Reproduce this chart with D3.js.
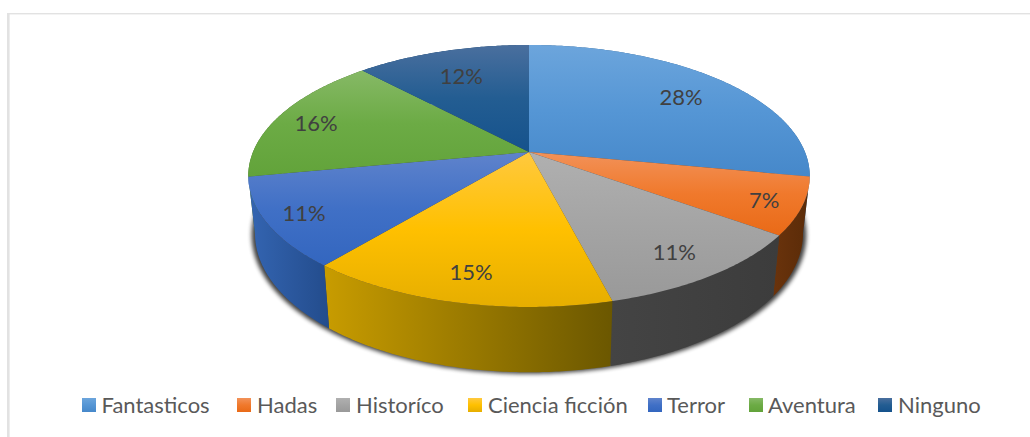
<!DOCTYPE html>
<html>
<head>
<meta charset="utf-8">
<script src="https://cdn.jsdelivr.net/npm/d3@7"></script>
<style>
  html, body { margin: 0; padding: 0; background: #fff; overflow: hidden; }
  text { font-family: Lato, "Open Sans", sans-serif; }
</style>
</head>
<body>
<div id="chart"></div>
<script>
// data
const categories = ['Fantasticos', 'Hadas', 'Historíco', 'Ciencia ficción', 'Terror', 'Aventura', 'Ninguno'];
const percents = [28, 7, 11, 15, 11, 16, 12];

// slice colours: top, middle and bottom of the gradient
const topLight = ['#6ca5dc', '#f29259', '#b0b0b0', '#ffc93f', '#5f83cc', '#86b966', '#4a6f9e'];
const topMid = ['#5596d5', '#f0792c', '#a4a4a4', '#ffc000', '#4070c6', '#6cab45', '#235d92'];
const topDark = ['#4688ca', '#e96a17', '#999999', '#e6ae00', '#3366bf', '#62a33a', '#15528c'];
// side wall colours: left, right
const wallLeft = ['#2d6192', '#6a330c', '#444444', '#c89c00', '#3465b2', '#3d6624', '#0f3a63'];
const wallRight = ['#2d6192', '#5a2b08', '#3c3c3c', '#6b5700', '#234c8c', '#3d6624', '#0f3a63'];

// layout
const width = 1030, height = 437;
const cx = 529, cy = 152;        // where the pie centre lands on screen
const ax = 276, ay = 126.6;      // radius of the disc before perspective
const persp = 0.183;             // how much nearer points get stretched
const labelRadius = [0.78, 0.87, 0.82, 0.82, 0.87, 0.85, 0.75];
const labelNudge = [3, 2, 2, 2, 0, 3, 3];
const legendSwatch = [82, 237, 336, 468, 648, 749, 878];
const legendText = [101.5, 257, 356, 488, 667, 768, 898];
const wallOrder = [6, 5, 0, 1, 2, 3, 4];   // back walls first, so the front ones hide them

// tilted disc: angle is clockwise from 12 o'clock, r is 0..1
function project(angle, r) {
    let X = r * Math.sin(angle);
    let Y = -r * Math.cos(angle);
    let d = 1 - persp * Y;
    return [cx + ax * X / d, cy + ay * Y / d];
}

// same point on the lower rim of the pie
function lower(p) {
    return [cx + (p[0] - cx) * 0.976, p[1] * 1.06 + 46.9];
}

let svg = d3.select('#chart').append('svg')
    .attr('width', width)
    .attr('height', height);

let defs = svg.append('defs');

categories.forEach(function (d, i) {
    let top = defs.append('linearGradient')
        .attr('id', 'top' + i)
        .attr('x1', 0).attr('y1', 0).attr('x2', 0).attr('y2', 1);
    top.append('stop').attr('offset', '0%').attr('stop-color', topLight[i]);
    top.append('stop').attr('offset', '50%').attr('stop-color', topMid[i]);
    top.append('stop').attr('offset', '100%').attr('stop-color', topDark[i]);

    let wall = defs.append('linearGradient')
        .attr('id', 'wall' + i)
        .attr('x1', 0).attr('y1', 0).attr('x2', 1).attr('y2', 0);
    wall.append('stop').attr('offset', '0%').attr('stop-color', wallLeft[i]);
    wall.append('stop').attr('offset', '100%').attr('stop-color', wallRight[i]);
});

defs.append('filter')
    .attr('id', 'blur')
    .attr('x', '-10%').attr('y', '-10%').attr('width', '120%').attr('height', '120%')
    .append('feGaussianBlur')
    .attr('stdDeviation', 2.2);

// frame lines of the pasted picture
svg.append('rect').attr('x', 7).attr('y', 13).attr('width', width - 7).attr('height', 1.4).attr('fill', '#e2e2e2');
svg.append('rect').attr('x', 7).attr('y', 13).attr('width', 2.6).attr('height', height - 13).attr('fill', '#e2e2e2');

let pie = d3.pie().sort(null).value(d => d);
let arcs = pie(percents);
let line = d3.line();

function rim(d) {
    let angles = d3.range(d.startAngle, d.endAngle, 0.01).concat([d.endAngle]);
    return angles.map(a => project(a, 1));
}

// soft shadow under the pie
let outline = d3.range(0, 2 * Math.PI + 0.01, 0.01).map(a => lower(project(a, 1)));
svg.append('path')
    .attr('d', line(outline.map(p => [cx + (p[0] - cx) * 1.012, p[1] + 1.5])) + 'Z')
    .attr('fill', '#000')
    .attr('opacity', 0.75)
    .attr('filter', 'url(#blur)');

// side walls
svg.selectAll('.wall')
    .data(wallOrder)
    .enter()
    .append('path')
    .attr('class', 'wall')
    .attr('d', function (i) {
        let upper = rim(arcs[i]);
        return line(upper.concat(upper.map(lower).reverse())) + 'Z';
    })
    .attr('fill', i => 'url(#wall' + i + ')');

// top faces
svg.selectAll('.slice')
    .data(arcs)
    .enter()
    .append('path')
    .attr('class', 'slice')
    .attr('d', d => line([[cx, cy]].concat(rim(d))) + 'Z')
    .attr('fill', (d, i) => 'url(#top' + i + ')');

// value labels
svg.selectAll('.value')
    .data(arcs)
    .enter()
    .append('text')
    .attr('class', 'value')
    .text(d => d.data + '%')
    .attr('x', (d, i) => project((d.startAngle + d.endAngle) / 2, labelRadius[i])[0])
    .attr('y', (d, i) => project((d.startAngle + d.endAngle) / 2, labelRadius[i])[1] + labelNudge[i])
    .attr('dy', '0.35em')
    .style('text-anchor', 'middle')
    .style('font-size', '22px')
    .style('fill', '#404040');

// legend
let legend = svg.selectAll('.legend')
    .data(categories)
    .enter()
    .append('g')
    .attr('class', 'legend');

legend.append('rect')
    .attr('x', (d, i) => legendSwatch[i])
    .attr('y', 398)
    .attr('width', 14)
    .attr('height', 14)
    .attr('fill', (d, i) => 'url(#top' + i + ')');

legend.append('text')
    .text(d => d)
    .attr('x', (d, i) => legendText[i])
    .attr('y', 412.5)
    .style('font-size', '22px')
    .style('fill', '#595959');
</script>
</body>
</html>
